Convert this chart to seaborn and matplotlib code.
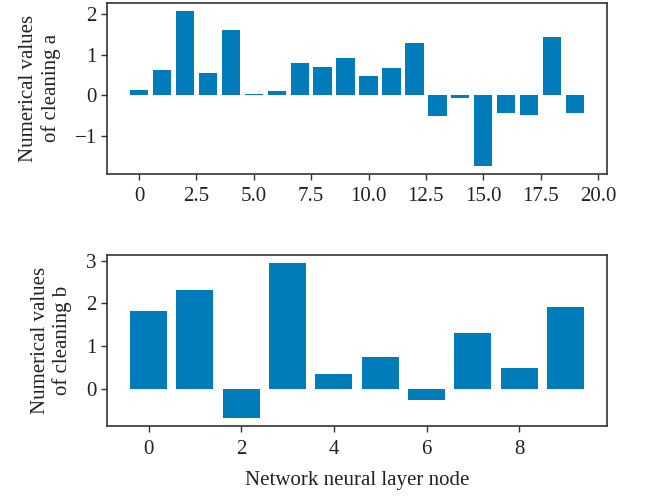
import numpy as np
import matplotlib

matplotlib.use('Agg')

import matplotlib.pyplot as plt
import seaborn as sns

# ============================================================
# Data
# ============================================================

nodes_a = list(range(20))
cleaning_a = [0.12, 0.61, 2.09, 0.54, 1.60, 0.02, 0.10, 0.79, 0.69, 0.91,
              0.47, 0.66, 1.28, -0.52, -0.08, -1.75, -0.43, -0.48, 1.43, -0.45]

nodes_b = list(range(10))
cleaning_b = [1.81, 2.32, -0.70, 2.94, 0.34, 0.74, -0.28, 1.31, 0.47, 1.90]

bar_color = '#017CBA'

# ============================================================
# Style
# ============================================================

sns.set_style('ticks')
plt.rcParams['font.family'] = ['Liberation Serif', 'DejaVu Serif']
plt.rcParams['axes.edgecolor'] = '#333333'
plt.rcParams['xtick.color'] = '#333333'
plt.rcParams['ytick.color'] = '#333333'
plt.rcParams['xtick.labelcolor'] = '#222222'
plt.rcParams['ytick.labelcolor'] = '#222222'

fig, (ax1, ax2) = plt.subplots(2, 1, figsize=(6.54, 4.96), dpi=100)

# ============================================================
# Top panel: cleaning a
# ============================================================

sns.barplot(x=nodes_a, y=cleaning_a, native_scale=True, color=bar_color,
            saturation=1, linewidth=0, width=0.8, ax=ax1)
ax1.set_ylabel('Numerical values\nof cleaning a', fontsize=15,
               color='#222222', labelpad=10)
ax1.set_xticks([0, 2.5, 5, 7.5, 10, 12.5, 15, 17.5, 20])
ax1.set_xticklabels(['0', '2.5', '5.0', '7.5', '10.0', '12.5', '15.0', '17.5', '20.0'])
ax1.set_yticks([-1, 0, 1, 2])
ax1.set_yticklabels(['\u22121', '0', '1', '2'])
ax1.set_xlim(-1.39, 20.39)
ax1.set_ylim(-1.94, 2.28)

# ============================================================
# Bottom panel: cleaning b
# ============================================================

sns.barplot(x=nodes_b, y=cleaning_b, native_scale=True, color=bar_color,
            saturation=1, linewidth=0, width=0.8, ax=ax2)
ax2.set_ylabel('Numerical values\nof cleaning b', fontsize=15,
               color='#222222', labelpad=10)
ax2.set_xlabel('Network neural layer node', fontsize=15,
               color='#222222', labelpad=9)
ax2.set_xticks([0, 2, 4, 6, 8])
ax2.set_yticks([0, 1, 2, 3])
ax2.set_xlim(-0.89, 9.89)
ax2.set_ylim(-0.88, 3.12)

for ax in (ax1, ax2):
    ax.tick_params(labelsize=15, length=4, width=1)
    ax.tick_params(axis='x', pad=6)
    for s in ax.spines.values():
        s.set_linewidth(1.2)

fig.subplots_adjust(left=0.164, right=0.928, top=0.994, bottom=0.141, hspace=0.48)

plt.savefig('out.png', dpi=100)
plt.close()
